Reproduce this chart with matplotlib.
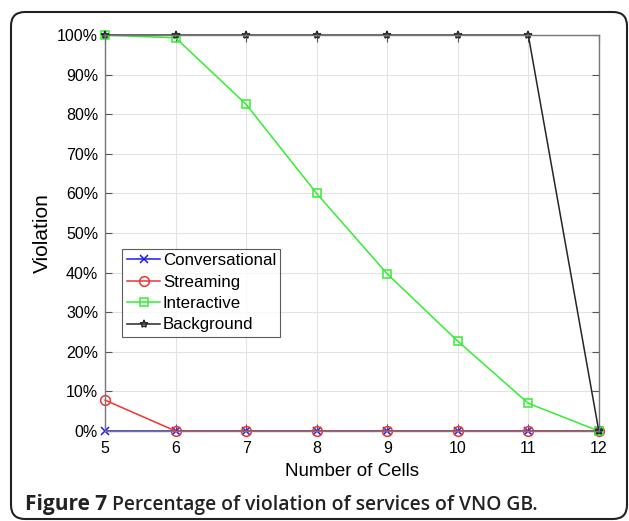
import numpy as np
import matplotlib
matplotlib.use('Agg')
import matplotlib.pyplot as plt
from matplotlib.patches import FancyBboxPatch
from matplotlib.transforms import IdentityTransform
from matplotlib.ticker import PercentFormatter

# Data (percent of violation vs number of cells)
cells = [5, 6, 7, 8, 9, 10, 11, 12]
conversational = [0, 0, 0, 0, 0, 0, 0, 0]
streaming = [7.8, 0, 0, 0, 0, 0, 0, 0]
interactive = [100, 99.3, 82.5, 60, 39.7, 22.7, 7, 0]
background = [100, 100, 100, 100, 100, 100, 100, 0]
y_ticks = [0, 10, 20, 30, 40, 50, 60, 70, 80, 90, 100]

plt.rcParams['font.family'] = ['Liberation Sans', 'DejaVu Sans']

fig = plt.figure(figsize=(6.29, 5.21), dpi=100)
ax = fig.add_axes([0.167, 0.1727, 0.785, 0.760])

ax.plot(cells, conversational, color='#1a1aff', lw=1.1, marker='x', ms=6,
        mew=1.1, label='Conversational', clip_on=False)
ax.plot(cells, streaming, color='#ee3333', lw=1.1, marker='o', ms=7,
        mfc='none', mew=1.1, label='Streaming', clip_on=False)
ax.plot(cells, interactive, color='#33ee33', lw=1.1, marker='s', ms=6,
        mfc='none', mew=1.1, label='Interactive', clip_on=False)
ax.plot(cells, background, color='#262626', lw=1.1, marker='*', ms=6,
        mfc='none', mew=1.1, label='Background', clip_on=False)

ax.set_xlim(5, 12)
ax.set_ylim(0, 100)
ax.set_xticks(cells)
ax.set_yticks(y_ticks)
ax.yaxis.set_major_formatter(PercentFormatter(decimals=0))
ax.tick_params(direction='in', top=True, right=True, labelsize=11.5,
               color='#555555', length=5)
ax.tick_params(axis='x', pad=7)
ax.tick_params(axis='y', pad=5)
ax.grid(True, color='#e3e3e3', lw=0.8)
ax.set_axisbelow(True)
for s in ax.spines.values():
    s.set_color('#777777')
    s.set_linewidth(1.0)

ax.set_xlabel('Number of Cells', fontsize=13.5, labelpad=5)
ax.set_ylabel('Violation', fontsize=15, labelpad=4)

leg = ax.legend(loc='upper left', bbox_to_anchor=(0.035, 0.46), fontsize=12.2,
                frameon=True, fancybox=False, edgecolor='#333333',
                handlelength=2.0, handletextpad=0.15, borderpad=0.25,
                labelspacing=0.38, borderaxespad=0)
leg.get_frame().set_linewidth(0.8)

# rounded border around the whole figure
H = 521
border = FancyBboxPatch((11, H - 519), 616, 507,
                        boxstyle='round,pad=0,rounding_size=14',
                        transform=IdentityTransform(), fill=False,
                        edgecolor='#222222', lw=1.5, clip_on=False)
fig.patches.append(border)

fig.text(25 / 629, 1 - 510 / H, 'Figure 7', fontsize=15, fontweight='bold',
         family='Open Sans', color='#222222', va='baseline', ha='left')
fig.text(112 / 629, 1 - 510 / H, 'Percentage of violation of services of VNO GB.',
         fontsize=13.9, fontweight='semibold', family='Open Sans',
         color='#222222', va='baseline', ha='left')

fig.savefig('out.png', dpi=100)
